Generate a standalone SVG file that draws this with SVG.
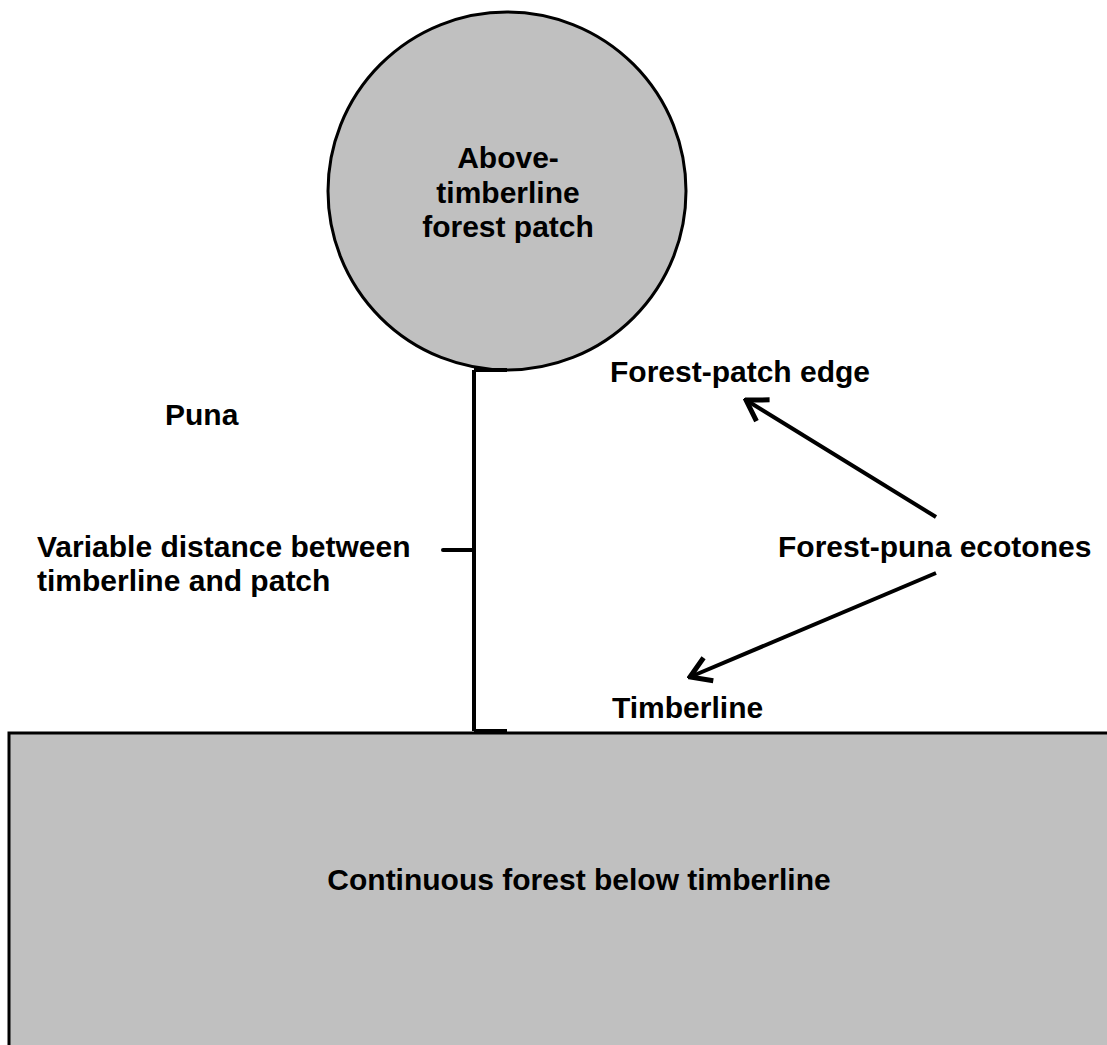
<svg xmlns="http://www.w3.org/2000/svg" width="1107" height="1045" viewBox="0 0 1107 1045">
<style>
text{font-family:"Liberation Sans",Arial,sans-serif;font-weight:bold;font-size:30px;fill:#000}
.shape{fill:#c0c0c0;stroke:#000;stroke-width:3}
.ln{stroke:#000;stroke-width:4;fill:none;stroke-linecap:round}
.arr{stroke:#000;stroke-width:4;fill:none}
</style>
<defs>
<marker id="ah" markerUnits="userSpaceOnUse" markerWidth="30" markerHeight="30" refX="2" refY="12" orient="auto" viewBox="0 0 24 24">
<polyline points="20,2 2,12 20,22" fill="none" stroke="#000" stroke-width="4" transform="rotate(180 12 12) translate(-2 0)"/>
</marker>
<marker id="chev" markerUnits="userSpaceOnUse" markerWidth="30" markerHeight="30" refX="22" refY="12" orient="auto" viewBox="0 0 24 24">
<polyline points="6,2 22,12 6,22" fill="none" stroke="#000" stroke-width="4"/>
</marker>
</defs>
<rect width="1107" height="1045" fill="#fff"/>
<g id="forest">
<rect class="shape" x="9" y="733" width="1110" height="330"/>
<text x="579" y="890" text-anchor="middle">Continuous forest below timberline</text>
</g>
<g id="patch">
<circle class="shape" cx="507" cy="191" r="179"/>
<text x="508" y="168" text-anchor="middle">Above-</text>
<text x="508" y="203" text-anchor="middle">timberline</text>
<text x="508" y="237" text-anchor="middle">forest patch</text>
</g>
<g id="puna"><text x="165" y="425">Puna</text></g>
<g id="distance-label">
<text x="37" y="557">Variable distance between</text>
<text x="37" y="591">timberline and patch</text>
</g>
<g id="patch-edge"><text x="610" y="382">Forest-patch edge</text></g>
<g id="ecotones"><text x="778" y="557">Forest-puna ecotones</text></g>
<g id="timberline"><text x="612" y="718">Timberline</text></g>
<g id="connectors">
<line class="ln" x1="474" y1="370" x2="474" y2="731" style="stroke-linecap:butt"/>
<line class="ln" x1="474" y1="370" x2="507" y2="370" style="stroke-linecap:butt"/>
<line class="ln" x1="443" y1="550" x2="474" y2="550"/>
<line class="ln" x1="474" y1="731" x2="507" y2="731" style="stroke-linecap:butt"/>
<line class="arr" x1="936" y1="517" x2="746" y2="400" marker-end="url(#chev)"/>
<line class="arr" x1="936" y1="573" x2="690" y2="677" marker-end="url(#chev)"/>
</g>
</svg>
